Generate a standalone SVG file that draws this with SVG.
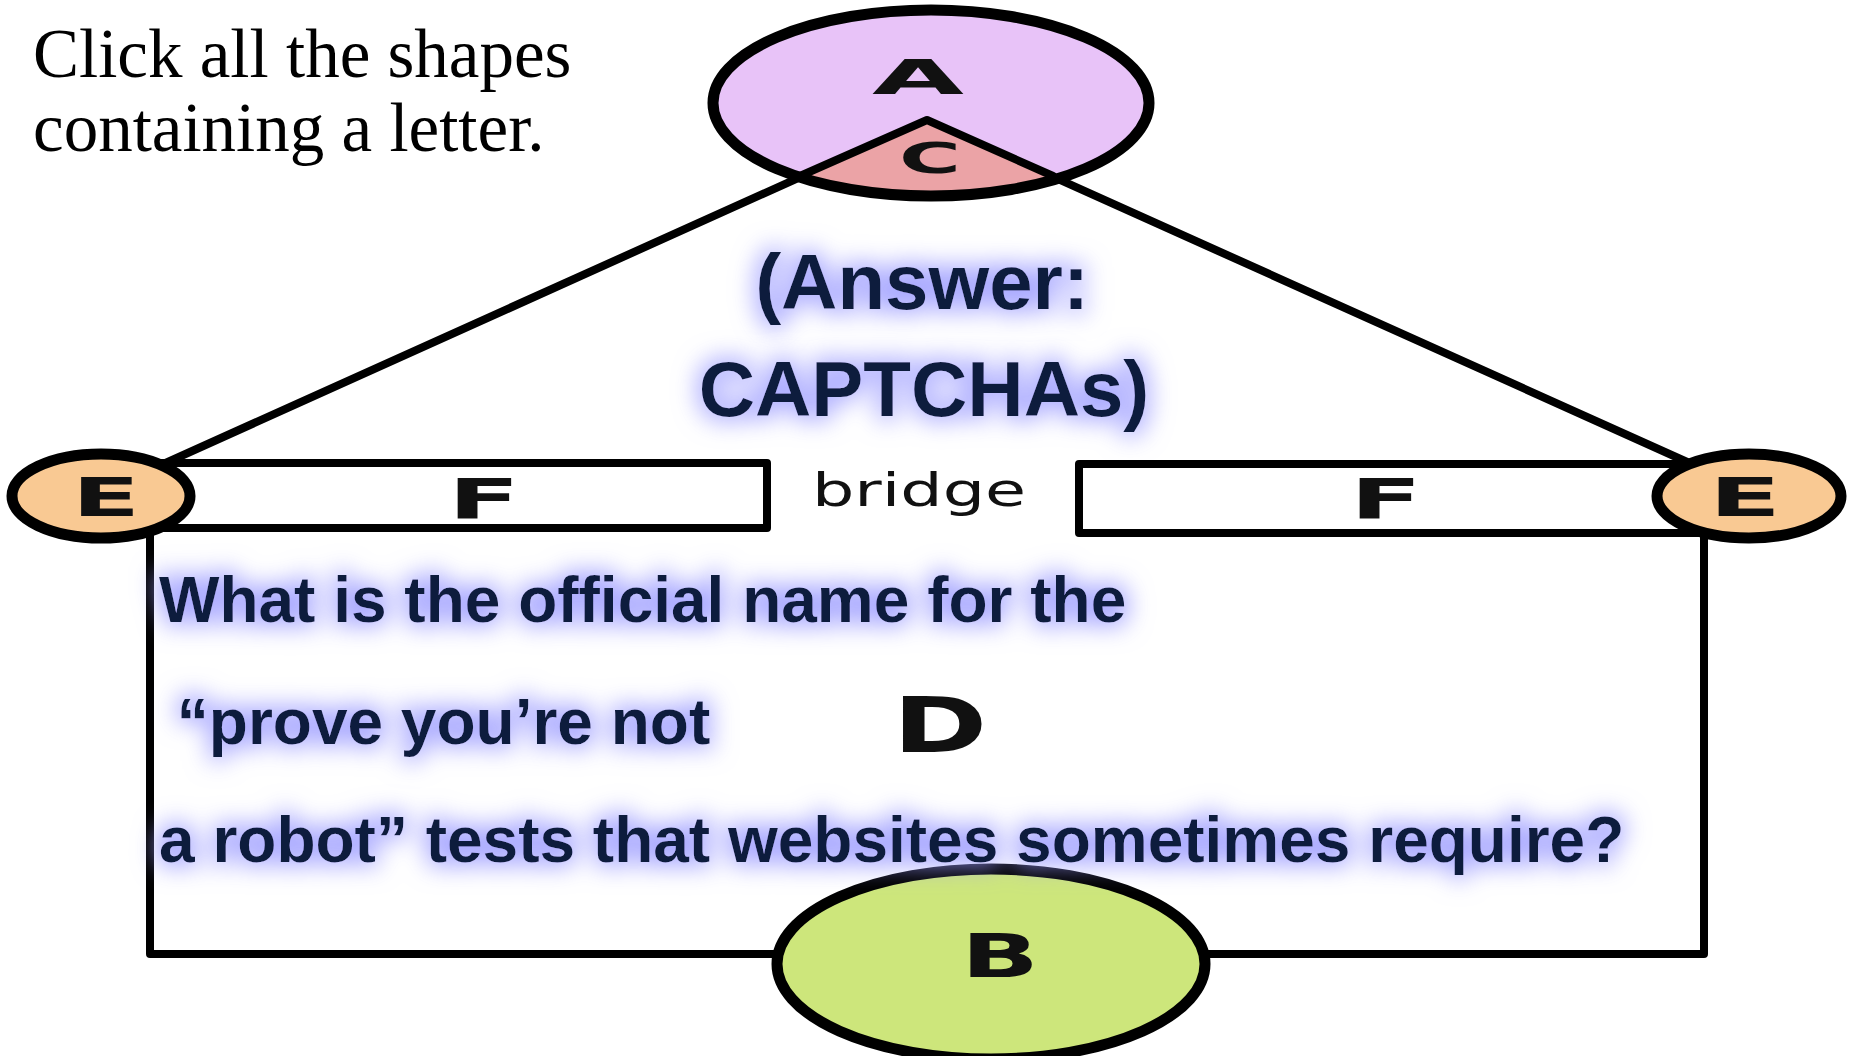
<svg xmlns="http://www.w3.org/2000/svg" width="1851" height="1056" viewBox="0 0 1851 1056">
<style>
.ln{fill:none;stroke:#000;stroke-width:8;stroke-linecap:round;stroke-linejoin:round}
.ring{stroke:#000;stroke-width:11}
.hand{font-family:"DejaVu Sans",sans-serif;font-weight:bold;fill:#111;text-anchor:middle}
.q{font-family:"Liberation Sans",Arial,sans-serif;font-weight:bold;fill:#0f1f3c;filter:url(#glow)}
.title{font-family:"Liberation Serif","Times New Roman",serif;font-size:69px;fill:#000}
</style>
<defs>
<filter id="glow" x="-20%" y="-60%" width="140%" height="220%">
<feMorphology in="SourceAlpha" operator="dilate" radius="4" result="d"/>
<feGaussianBlur in="d" stdDeviation="12" result="b"/>
<feFlood flood-color="#9a9aff" flood-opacity="0.85"/>
<feComposite in2="b" operator="in" result="g"/>
<feMerge><feMergeNode in="g"/><feMergeNode in="SourceGraphic"/></feMerge>
</filter>
<clipPath id="clipA"><ellipse cx="931" cy="103" rx="218" ry="93"/></clipPath>
</defs>
<rect width="1851" height="1056" fill="#fff"/>

<g id="connectors">
<polyline class="ln" points="150,470 927,120 1705,470"/>
<polyline class="ln" points="150,530 150,954 1704,954 1704,530"/>
</g>

<g id="node-A">
<ellipse cx="931" cy="103" rx="218" ry="93" fill="#e8c3f8"/>
<text class="hand" x="918" y="94" font-size="48" textLength="92" lengthAdjust="spacingAndGlyphs">A</text>
</g>
<g id="node-C">
<polygon points="927,120 560,280 1300,280" fill="#eba3a6" clip-path="url(#clipA)"/>
<polyline class="ln" points="800,176 927,120 1053,176"/>
<text class="hand" x="930" y="173" font-size="42" textLength="62" lengthAdjust="spacingAndGlyphs">C</text>
</g>
<ellipse cx="931" cy="103" rx="218" ry="93" fill="none" class="ring"/>

<g id="node-F-left">
<rect x="150" y="463" width="617" height="65" fill="#fff" class="ln"/>
<text class="hand" x="484" y="518" font-size="56" textLength="72" lengthAdjust="spacingAndGlyphs">F</text>
</g>
<g id="node-F-right">
<rect x="1079" y="464" width="630" height="69" fill="#fff" class="ln"/>
<text class="hand" x="1386" y="518" font-size="56" textLength="72" lengthAdjust="spacingAndGlyphs">F</text>
</g>
<g id="node-bridge">
<text x="812" y="506" font-family="'DejaVu Sans',sans-serif" font-size="46" fill="#111" textLength="214" lengthAdjust="spacingAndGlyphs">bridge</text>
</g>
<g id="node-E-left">
<ellipse cx="101" cy="496" rx="89" ry="42" fill="#f9c993" class="ring"/>
<text class="hand" x="106" y="516" font-size="54" textLength="68" lengthAdjust="spacingAndGlyphs">E</text>
</g>
<g id="node-E-right">
<ellipse cx="1749" cy="496" rx="92" ry="42" fill="#f9c993" class="ring"/>
<text class="hand" x="1745" y="516" font-size="54" textLength="72" lengthAdjust="spacingAndGlyphs">E</text>
</g>
<g id="node-D">
<text class="hand" x="940" y="752" font-size="76" textLength="95" lengthAdjust="spacingAndGlyphs">D</text>
</g>
<g id="node-B">
<ellipse cx="991" cy="964" rx="214" ry="95" fill="#cde67b" class="ring"/>
<text class="hand" x="1000" y="977" font-size="60" textLength="78" lengthAdjust="spacingAndGlyphs">B</text>
</g>

<g id="title">
<text class="title" x="33" y="77">Click all the shapes</text>
<text class="title" x="33" y="151">containing a letter.</text>
</g>
<g id="question">
<text class="q" x="159" y="622" font-size="64">What is the official name for the</text>
<text class="q" x="159" y="744" font-size="64" xml:space="preserve"> “prove you’re not</text>
<text class="q" x="159" y="862" font-size="64">a robot” tests that websites sometimes require?</text>
</g>
<g id="answer">
<text class="q" x="922" y="309" font-size="78" text-anchor="middle">(Answer:</text>
<text class="q" x="924" y="416" font-size="78" text-anchor="middle">CAPTCHAs)</text>
</g>
</svg>
